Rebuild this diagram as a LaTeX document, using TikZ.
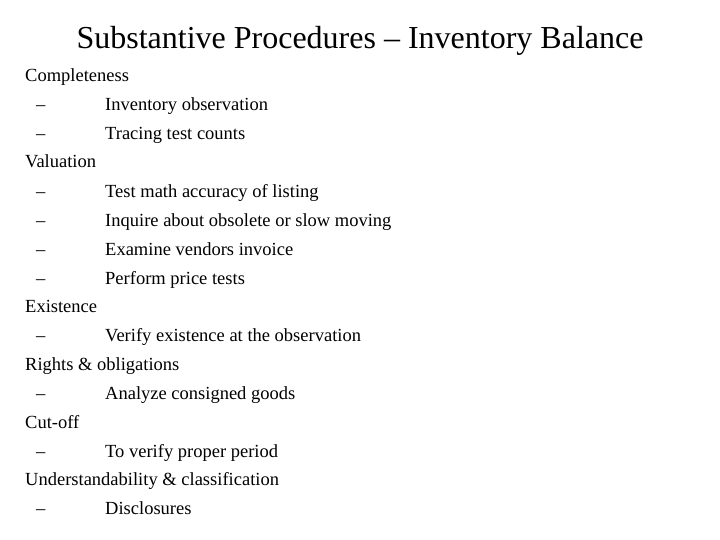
\documentclass[tikz,border=0pt]{standalone}
\usepackage{fontspec}
\setmainfont{Liberation Serif}
\begin{document}
\begin{tikzpicture}[x=1pt,y=-1pt,
  head/.style={anchor=base west,inner sep=0pt,font=\fontsize{18.5}{20}\selectfont},
  dashmark/.style={anchor=base west,inner sep=0pt,font=\fontsize{18.5}{20}\selectfont},
  item/.style={anchor=base west,inner sep=0pt,font=\fontsize{18.5}{20}\selectfont}]
\useasboundingbox (0,0) rectangle (720,540);
\node[anchor=base,inner sep=0pt,font=\fontsize{32}{36}\selectfont] (title) at (360,49) {Substantive Procedures – Inventory Balance};
\def\rowy#1{\fpeval{82+28.85*(#1)}}
\node[head] (h1) at (25,82) {Completeness};
\node[dashmark] (d1) at (36,111) {–}; \node[item] (i1) at (105,111) {Inventory observation};
\node[dashmark] (d2) at (36,140) {–}; \node[item] (i2) at (105,140) {Tracing test counts};
\node[head] (h2) at (25,168) {Valuation};
\node[dashmark] (d3) at (36,197) {–}; \node[item] (i3) at (105,197) {Test math accuracy of listing};
\node[dashmark] (d4) at (36,226) {–}; \node[item] (i4) at (105,226) {Inquire about obsolete or slow moving};
\node[dashmark] (d5) at (36,255) {–}; \node[item] (i5) at (105,255) {Examine vendors invoice};
\node[dashmark] (d6) at (36,284) {–}; \node[item] (i6) at (105,284) {Perform price tests};
\node[head] (h3) at (25,312) {Existence};
\node[dashmark] (d7) at (36,341) {–}; \node[item] (i7) at (105,341) {Verify existence at the observation};
\node[head] (h4) at (25,370) {Rights \& obligations};
\node[dashmark] (d8) at (36,399) {–}; \node[item] (i8) at (105,399) {Analyze consigned goods};
\node[head] (h5) at (25,428) {Cut-off};
\node[dashmark] (d9) at (36,457) {–}; \node[item] (i9) at (105,457) {To verify proper period};
\node[head] (h6) at (25,485) {Understandability \& classification};
\node[dashmark] (d10) at (36,514) {–}; \node[item] (i10) at (105,514) {Disclosures};
\end{tikzpicture}
\end{document}
